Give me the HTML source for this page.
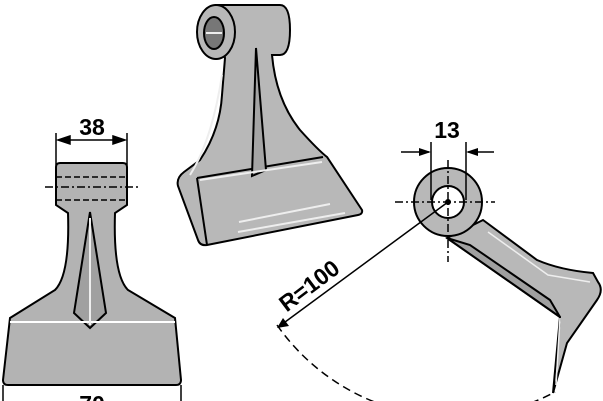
<!DOCTYPE html>
<html><head><style>html,body{margin:0;padding:0;background:#fff;}svg{display:block}</style></head><body>
<svg width="603" height="401" viewBox="0 0 603 401" xmlns="http://www.w3.org/2000/svg" font-family="Liberation Sans, sans-serif" font-weight="bold">
<!-- LEFT front view -->
<g stroke="#000" stroke-width="2" fill="#b3b3b3">
<path d="M60,163 H123 Q127,163 127,167 V205 L115,213 Q113,275 128,290 L175,318 L181,380 Q181,385 176,385 H8 Q3,385 3,380 L10,318 L55,290 Q70,275 68,213 L56,205 V167 Q56,163 60,163 Z"/>
<path d="M90,212 L106,313 L90,328 L74,313 Z" fill="#a0a0a0"/>
</g>
<path d="M10,322 H175" stroke="#fff" stroke-width="2"/>
<path d="M90,218 V325" stroke="#eee" stroke-width="2"/>
<g stroke="#000" stroke-width="1.5" fill="none">
<path d="M56,177 H127 M56,200 H127" stroke-dasharray="6,3"/>
<path d="M45,187 H138" stroke-dasharray="8,3,2,3"/>
<path d="M56,133 V165 M127,133 V165 M3,385 V401 M181,385 V401"/>
<path d="M64,140 H119"/>
</g>
<g stroke="#000" stroke-width="1.5"><path d="M70,136 L58,140 L70,144Z M113,136 L125,140 L113,144Z"/></g>
<text x="92" y="135" font-size="23" text-anchor="middle">38</text>
<text x="92" y="412" font-size="23" text-anchor="middle">70</text>
<!-- MIDDLE 3D -->
<g stroke="#000" stroke-width="2" fill="#b8b8b8">
<path d="M216,5 H280 Q290,5 290,30 Q290,55 280,55 H272 Q276,100 300,130 Q318,150 327,157 L362,210 Q363,214 358,215 L207,245 Q200,246 198,240 L178,186 Q176,178 184,172 L200,160 Q220,130 222,95 L225,58 Z"/>
<path d="M197,178 L323,157" fill="none"/>
<path d="M207,245 L197,178" fill="none"/>
<ellipse cx="216" cy="32" rx="19" ry="27"/>
<ellipse cx="214" cy="33" rx="10" ry="16" fill="#777"/>
<path d="M256,48 L266,170 L252,176 Z" fill="#a5a5a5"/>
</g>
<path d="M206,33 H222 M238,232 L345,213 M239,222 L330,204 M200,180 L322,162 M190,175 Q212,140 222,75" stroke="#eee" stroke-width="2" fill="none"/>
<!-- RIGHT view -->
<g stroke="#000" stroke-width="2" fill="#b8b8b8">
<path d="M447,238 L560,317 L553,393 L567,343 L597,300 Q604,290 598,282 L593,273 Q560,270 537,260 L483,220 Z"/>
<path d="M447,238 L560,317 L550,300 L470,245 Z" fill="#a0a0a0"/>
<circle cx="448" cy="202" r="34"/>
<circle cx="448" cy="202" r="16" fill="#fff"/>
</g>
<path d="M488,232 L548,275 L590,282 M560,318 L556,385" stroke="#eee" stroke-width="1.5" fill="none"/>
<g stroke="#000" stroke-width="1.5" fill="none">
<path d="M395,202 H495" stroke-dasharray="8,3,2,3"/>
<path d="M448,160 V262" stroke-dasharray="8,3,2,3"/>
<path d="M431,142 V200 M466,142 V200"/>
<path d="M401,152 H429 M494,152 H468"/>
<path d="M448,202 L281,325"/>
<path d="M277,325 A216,216 0 0 0 555,392" stroke-dasharray="8,5"/>
</g>
<path d="M419,148 L431,152 L419,156Z M478,148 L466,152 L478,156Z" fill="#000"/>
<path d="M277,328 L283,318 L289,326Z" fill="#000"/>
<circle cx="448" cy="202" r="3" fill="#000"/>
<text x="447" y="138" font-size="23" text-anchor="middle">13</text>
<text x="0" y="0" font-size="23" text-anchor="middle" transform="translate(314,292) rotate(-37)">R=100</text>
</svg>
</body></html>
